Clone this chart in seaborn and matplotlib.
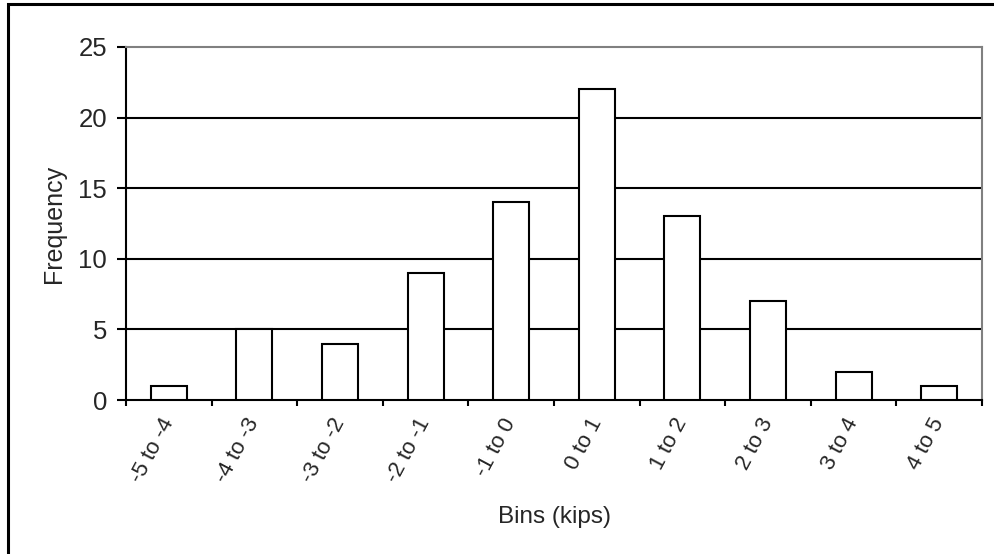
import matplotlib
matplotlib.use("Agg")
import matplotlib.pyplot as plt
from matplotlib.patches import Rectangle
import seaborn as sns
import pandas as pd

bins = ["-5 to -4", "-4 to -3", "-3 to -2", "-2 to -1", "-1 to 0",
        "0 to 1", "1 to 2", "2 to 3", "3 to 4", "4 to 5"]
frequency = [1, 5, 4, 9, 14, 22, 13, 7, 2, 1]
y_ticks = [0, 5, 10, 15, 20, 25]

sns.set_style("white")
plt.rcParams["font.family"] = ["Liberation Sans", "DejaVu Sans"]

df = pd.DataFrame({"bin": bins, "freq": frequency})

fig = plt.figure(figsize=(9.94, 5.54), dpi=100)
W, H = 994, 554
ax = fig.add_axes([126 / W, 1 - 400 / H, (982 - 126) / W, (400 - 47) / H])

# Frame around the whole figure (runs off the right and bottom edges)
fig.patches.append(Rectangle((8 / W, -0.1), 1.2, 1.1 - 4 / H,
                             transform=fig.transFigure, fill=False,
                             edgecolor="black", linewidth=2.2, zorder=0))

sns.barplot(data=df, x="bin", y="freq", color="white", edgecolor="black",
            linewidth=1.5, width=0.42, saturation=1, ax=ax, zorder=3)

for y in y_ticks[1:-1]:
    ax.axhline(y, color="black", linewidth=1.5, zorder=1)

ax.set_xlim(-0.5, len(bins) - 0.5)
ax.set_ylim(0, 25)
ax.set_yticks(y_ticks)

for side in ["top", "right"]:
    ax.spines[side].set_color("#808080")
    ax.spines[side].set_linewidth(1.5)
for side in ["left", "bottom"]:
    ax.spines[side].set_color("black")
    ax.spines[side].set_linewidth(1.5)

# Category labels centred on bars, tick marks at bin boundaries
ax.set_xticks(range(len(bins)))
ax.set_xticklabels(bins, rotation=62, ha="right", va="center",
                   rotation_mode="anchor", fontsize=16)
ax.set_xticks([i - 0.5 for i in range(len(bins) + 1)], minor=True)
ax.tick_params(axis="x", which="major", length=0, pad=14)
ax.tick_params(axis="x", which="minor", length=4.5, width=1.5, color="black",
               direction="out", bottom=True)
ax.tick_params(axis="y", length=6.5, width=1.5, color="black", direction="out",
               left=True, labelsize=18.5, pad=7)

ax.set_xlabel("Bins (kips)", fontsize=17.5, labelpad=14)
ax.set_ylabel("Frequency", fontsize=18, labelpad=9)

fig.savefig("out.png", dpi=100)
